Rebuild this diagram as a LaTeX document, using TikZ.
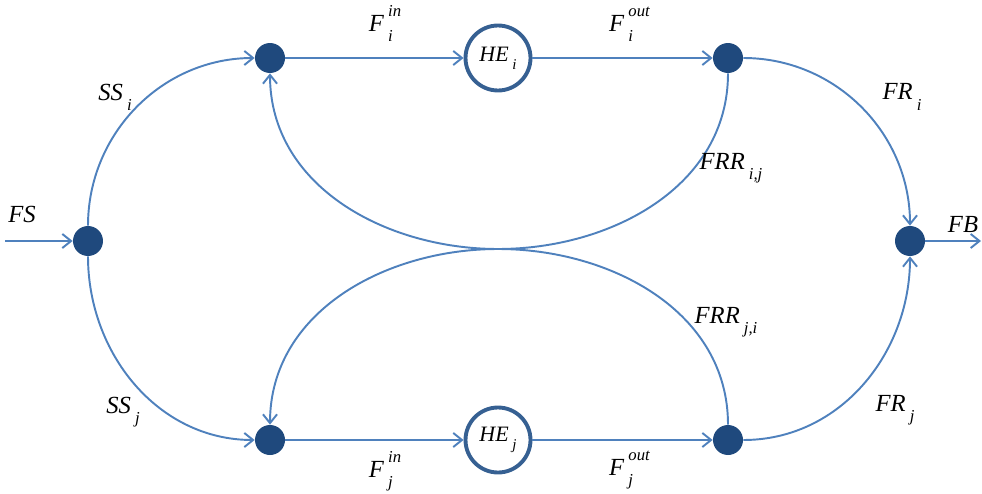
\documentclass[tikz,border=0pt]{standalone}
\usepackage{fontspec}
\setmainfont{Liberation Serif}
\usetikzlibrary{arrows.meta, positioning}

\definecolor{flowblue}{RGB}{79,129,189}
\definecolor{dotblue}{RGB}{31,73,125}
\definecolor{ringblue}{RGB}{54,96,146}

\newcommand{\sbs}[2]{\textit{#1}\,\raisebox{-0.9ex}{\fontsize{9.5}{9.5}\selectfont\textit{#2}}}
\newcommand{\flw}[3]{\textit{#1}\,\rlap{\raisebox{-0.9ex}{\fontsize{9.5}{9.5}\selectfont\textit{#2}}}\raisebox{1.3ex}{\fontsize{9.5}{9.5}\selectfont\textit{#3}}}

\begin{document}
\begin{tikzpicture}[
        x=0.02cm, y=-0.02cm,
        dot/.style={circle, fill=dotblue, minimum size=0.6cm, inner sep=0pt},
        unit/.style={circle, draw=ringblue, line width=2.2pt, fill=white, minimum size=1.3cm, inner sep=0pt, font=\fontsize{12.5}{14}\selectfont\itshape},
        flow/.style={-{Straight Barb[length=5pt, width=8pt]}, draw=flowblue, line width=1.1pt},
        label/.style={font=\fontsize{14}{16}\selectfont, inner sep=2pt}
    ]
        \useasboundingbox (0,0) rectangle (982,493);
        \node[dot] (split) at (88, 241) {};
        \node[dot] (inI) at (270, 58) {};
        \node[unit] (heI) at (498, 58) {HE\,\raisebox{-0.8ex}{\fontsize{8.5}{8.5}\selectfont i}};
        \node[dot] (outI) at (728, 58) {};
        \node[dot] (inJ) at (270, 440) {};
        \node[unit] (heJ) at (498, 440) {HE\,\raisebox{-0.8ex}{\fontsize{8.5}{8.5}\selectfont j}};
        \node[dot] (outJ) at (728, 440) {};
        \node[dot] (mix) at (910, 241) {};
        \coordinate (feed) at (5, 241);
        \coordinate (prod) at (981, 241);
        \coordinate (mid) at (498, 249);
        \draw[flow] (feed) -- (split);
        \draw[flow] (mix) -- (prod);
        \draw[flow] (split) to[out=90, in=180] (inI);
        \draw[flow] (split) to[out=-90, in=180] (inJ);
        \draw[flow] (inI) -- (heI) node[midway, above=7pt, xshift=6, label] {\flw{F}{i}{in}};
        \draw[flow] (heI) -- (outI) node[midway, above=7pt, xshift=4, label] {\flw{F}{i}{out}};
        \draw[flow] (inJ) -- (heJ) node[midway, below=4pt, xshift=6, label] {\flw{F}{j}{in}};
        \draw[flow] (heJ) -- (outJ) node[midway, below=4pt, xshift=4, label] {\flw{F}{j}{out}};
        \draw[flow] (outI) to[out=0, in=90] (mix);
        \draw[flow] (outJ) to[out=0, in=-90] (mix);
        \draw[flow] (outI) to[out=-90, in=0] (mid) to[out=180, in=90] (inJ);
        \draw[flow] (outJ) to[out=90, in=0] (mid) to[out=180, in=-90] (inI);
        \node[label] (fs) at (22, 214) {\textit{FS}};
        \node[label] (fb) at (963, 224) {\textit{FB}};
        \node[label] (ssI) at (115, 97) {\sbs{SS}{i}};
        \node[label] (ssJ) at (123, 412) {\sbs{SS}{j}};
        \node[label] (frI) at (902, 97) {\sbs{FR}{i}};
        \node[label] (frJ) at (895, 410) {\sbs{FR}{j}};
        \node[label] (frrI) at (731, 168) {\sbs{FRR}{i,j}};
        \node[label] (frrJ) at (726, 322) {\sbs{FRR}{j,i}};
    \end{tikzpicture}
\end{document}
